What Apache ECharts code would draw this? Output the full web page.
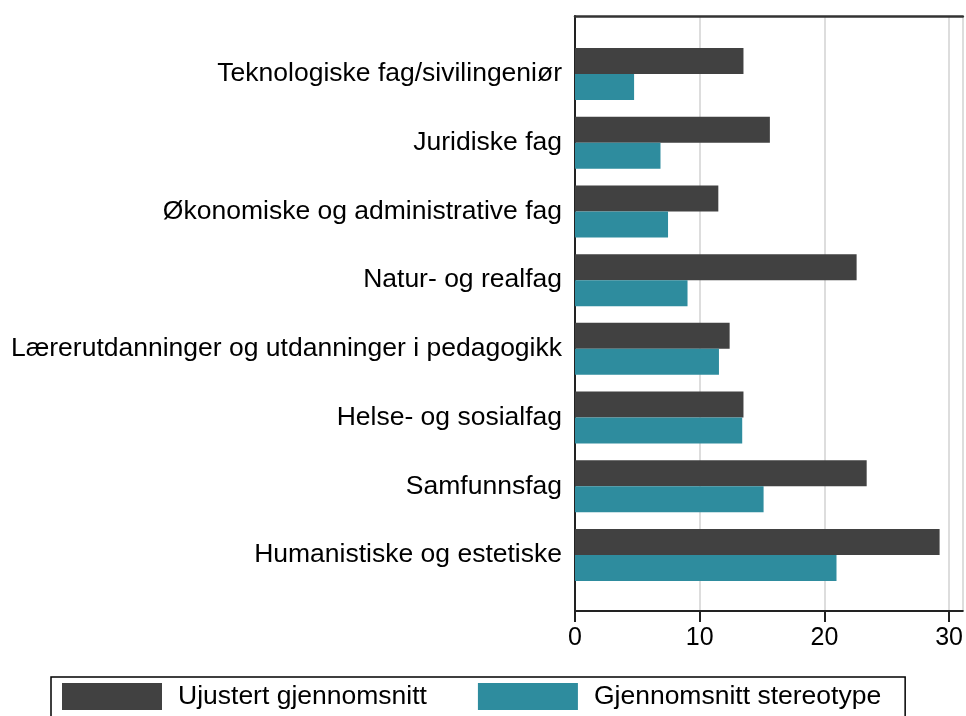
<!DOCTYPE html>
<html>
<head>
<meta charset="utf-8">
<script src="https://cdn.jsdelivr.net/npm/echarts@6/dist/echarts.min.js"></script>
<style>
    html, body { margin: 0; padding: 0; background: #fff; overflow: hidden; }
    #chartBox { width: 966px; height: 716px; }
</style>
</head>
<body>
<div id="chartBox"></div>
<script>
// categories top to bottom
var fagList = [
    'Teknologiske fag/sivilingeniør',
    'Juridiske fag',
    'Økonomiske og administrative fag',
    'Natur- og realfag',
    'Lærerutdanninger og utdanninger i pedagogikk',
    'Helse- og sosialfag',
    'Samfunnsfag',
    'Humanistiske og estetiske'
];
var ujustert = [13.4, 15.5, 11.4, 22.4, 12.3, 13.4, 23.2, 29.0];
var stereotype = [4.7, 6.8, 7.4, 8.95, 11.45, 13.3, 15.0, 20.8];
var seriesNames = ['Ujustert gjennomsnitt', 'Gjennomsnitt stereotype'];
var xTicks = [0, 10, 20, 30];

var font = 'Liberation Sans, Arial, sans-serif';
var xMax = 31.1;

var myChart1 = echarts.init(document.getElementById('chartBox'), null, { width: 966, height: 716 });
var option = {
    animation: false,
    textStyle: { fontFamily: font },
    grid: [
        // bars
        { left: 575, width: 391, top: 39.6, bottom: 126.6 },
        // frame + gridlines
        { left: 575, width: 391, top: 16, bottom: 105 }
    ],
    legend: {
        left: 51,
        top: 677,
        itemWidth: 100,
        itemHeight: 27,
        itemGap: 51,
        icon: 'rect',
        borderColor: '#000',
        borderWidth: 1.5,
        padding: [6, 24, 12, 11],
        textStyle: { fontSize: 26.5, color: '#000', fontFamily: font, padding: [0, 0, 0, 11] },
        data: seriesNames
    },
    xAxis: [
        {
            gridIndex: 0, type: 'value', min: 0, max: xMax, show: false
        },
        {
            gridIndex: 1, type: 'value', min: 0, max: xMax, interval: 10,
            axisLine: { show: true, lineStyle: { color: '#222', width: 2 } },
            axisTick: { show: true, length: 11, lineStyle: { color: '#222', width: 2 } },
            axisLabel: {
                fontSize: 25, color: '#000', margin: 15, showMaxLabel: false,
                formatter: function (v) { return xTicks.indexOf(v) >= 0 ? String(v) : ''; }
            },
            splitLine: { show: true, lineStyle: { color: '#dddddd', width: 2 } }
        },
        {
            gridIndex: 1, type: 'value', position: 'top', min: 0, max: xMax,
            axisLine: { show: true, lineStyle: { color: '#333', width: 2.5 } },
            axisTick: { show: false }, axisLabel: { show: false }, splitLine: { show: false }
        }
    ],
    yAxis: [
        {
            gridIndex: 0, type: 'category', inverse: true, data: fagList,
            axisLine: { show: false }, axisTick: { show: false },
            axisLabel: { fontSize: 26.5, color: '#000', margin: 13 }
        },
        {
            gridIndex: 1, type: 'value', min: 0, max: 1,
            axisLine: { show: true, lineStyle: { color: '#222', width: 2 } },
            axisTick: { show: false }, axisLabel: { show: false }, splitLine: { show: false }
        }
    ],
    series: [
        {
            name: seriesNames[0], type: 'bar', xAxisIndex: 0, yAxisIndex: 0,
            data: ujustert, barWidth: 26, barGap: '0%',
            itemStyle: { color: '#414141' }
        },
        {
            name: seriesNames[1], type: 'bar', xAxisIndex: 0, yAxisIndex: 0,
            data: stereotype, barWidth: 26, barGap: '0%',
            itemStyle: { color: '#2e8c9e' }
        }
    ]
};
myChart1.setOption(option);
</script>
</body>
</html>
